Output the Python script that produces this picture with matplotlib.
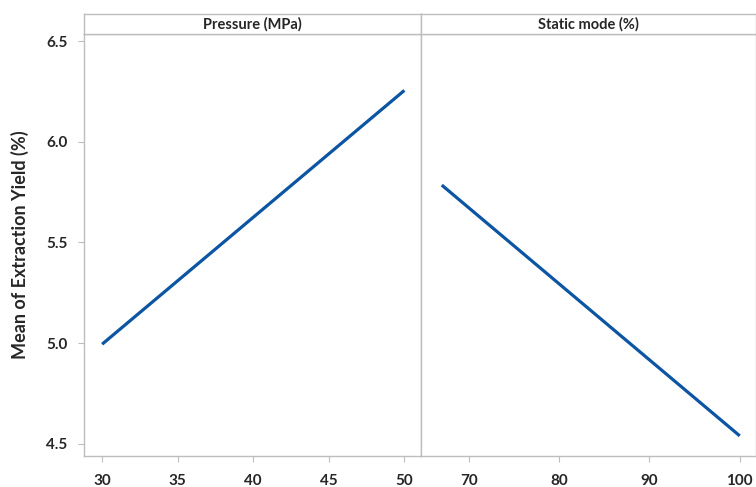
import matplotlib.pyplot as plt

plt.rcParams['font.family'] = ['Lato', 'DejaVu Sans']

# main effects data
pressure = [30, 50]
pressure_mean = [4.995, 6.255]
static_mode = [67, 100]
static_mean = [5.785, 4.54]

pressure_ticks = [30, 35, 40, 45, 50]
static_ticks = [70, 80, 90, 100]
y_ticks = [4.5, 5.0, 5.5, 6.0, 6.5]

line_color = '#0b55a3'
edge = '#bdbdbd'
txt = '#262626'

fig = plt.figure(figsize=(7.56, 4.87), dpi=100)

left, mid, right = 84 / 756, 421 / 756, 1.0
bottom = (487 - 456) / 487
top_main = (487 - 34) / 487
top_head = (487 - 14) / 487

panels = [
    ('Pressure (MPa)', pressure, pressure_mean, pressure_ticks, (28.8, 51.1), left, mid),
    ('Static mode (%)', static_mode, static_mean, static_ticks, (64.7, 101.8), mid, right),
]

for i, (title, xs, ys, ticks, xlim, x0, x1) in enumerate(panels):
    ax = fig.add_axes([x0, bottom, x1 - x0, top_main - bottom])
    hd = fig.add_axes([x0, top_main, x1 - x0, top_head - top_main])

    ax.plot(xs, ys, color=line_color, lw=2.3, solid_capstyle='butt')
    ax.set_xlim(*xlim)
    ax.set_ylim(4.44, 6.535)
    ax.set_xticks(ticks)
    ax.set_xticklabels([str(t) for t in ticks], fontsize=11, fontweight='bold', color=txt)
    ax.set_yticks(y_ticks)
    if i == 0:
        ax.set_yticklabels([f'{t:.1f}' for t in y_ticks], fontsize=11, fontweight='bold', color=txt)
        ax.set_ylabel('Mean of Extraction Yield (%)', fontsize=13, fontweight='bold', color=txt, labelpad=12)
        ax.tick_params(axis='y', length=4, width=0.8, color=edge, pad=8)
    else:
        ax.tick_params(axis='y', left=False, labelleft=False)
    ax.tick_params(axis='x', length=4, width=0.8, color=edge, pad=9)
    for s in ax.spines.values():
        s.set_color(edge)
        s.set_linewidth(1.0)

    hd.set_xticks([])
    hd.set_yticks([])
    for s in hd.spines.values():
        s.set_color(edge)
        s.set_linewidth(1.0)
    hd.text(0.5, 0.5, title, ha='center', va='center', fontsize=10.5, fontweight='bold', color=txt,
            transform=hd.transAxes)

fig.savefig('out.png', dpi=100)
